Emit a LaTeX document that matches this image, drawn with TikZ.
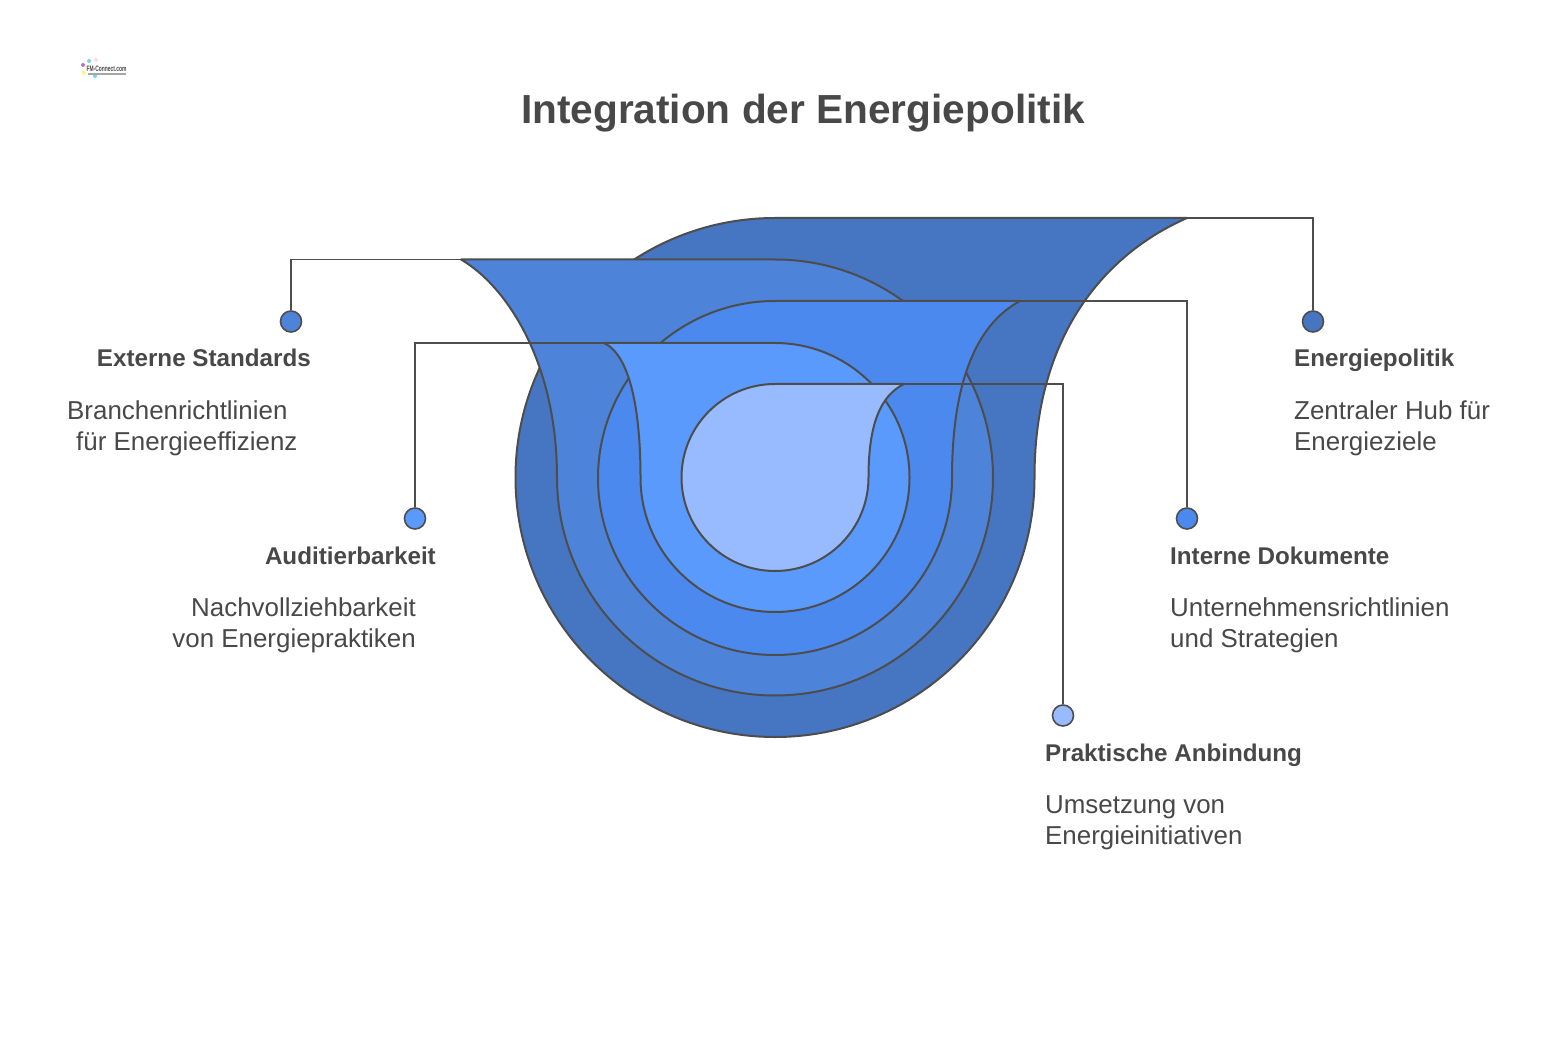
\documentclass[tikz,border=0pt]{standalone}
\usepackage{fontspec}
\setmainfont{Liberation Sans}
\usepackage{xcolor}
\usetikzlibrary{positioning}
\definecolor{ringA}{HTML}{4676C2}
\definecolor{ringB}{HTML}{4E83DA}
\definecolor{ringC}{HTML}{4B89EE}
\definecolor{ringD}{HTML}{5B9AFD}
\definecolor{ringE}{HTML}{97BBFE}
\definecolor{edgegray}{HTML}{4D4D4D}
\definecolor{textgray}{HTML}{484848}
\tikzset{
    ring/.style={draw=edgegray,line width=2pt,line join=round},
    lead/.style={draw=edgegray,line width=1.5pt},
    dot/.style={circle,draw=edgegray,line width=1.6pt,minimum size=21pt,inner sep=0pt},
    headline/.style={font=\fontsize{24.2}{30}\selectfont\bfseries,text=textgray,inner sep=0pt},
    bodytext/.style={font=\fontsize{25.9}{31}\selectfont,text=textgray,inner sep=0pt,align=left}
}

\begin{document}
\begin{tikzpicture}[x=1pt,y=-1pt]
        \useasboundingbox (0,0) rectangle (1558,1048);

        % Outer ring (Energiepolitik)
        \draw[ring,fill=ringA] (775,218) arc[start angle=270,end angle=0,radius=259.5]
            .. controls (1034.5,335) and (1105,254) .. (1187,218) -- cycle;
        % Second ring (Externe Standards)
        \draw[ring,fill=ringB] (775,259.5) arc[start angle=270,end angle=540,radius=218]
            .. controls (557,360) and (505,285) .. (461,259.5) -- cycle;
        % Third ring (Interne Dokumente)
        \draw[ring,fill=ringC] (775,301) arc[start angle=270,end angle=0,radius=177]
            .. controls (952,385) and (975,325) .. (1020,301) -- cycle;
        % Fourth ring (Auditierbarkeit)
        \draw[ring,fill=ringD] (775,343) arc[start angle=270,end angle=540,radius=134.5]
            .. controls (640.5,410) and (630,355) .. (604,343) -- cycle;
        % Inner ring (Praktische Anbindung)
        \draw[ring,fill=ringE] (775,384) arc[start angle=270,end angle=0,radius=93.5]
            .. controls (868.5,425) and (880,396) .. (904,384) -- cycle;

        % Ends of the leads on the rings
        \coordinate (topA) at (775,218);
        \coordinate (topB) at (775,259.5);
        \coordinate (topC) at (775,301);
        \coordinate (topD) at (775,343);
        \coordinate (topE) at (775,384);

        % Dots
        \node[dot,fill=ringA] (dotA) at (1313,321.5) {};
        \node[dot,fill=ringB] (dotB) at (291,321.5) {};
        \node[dot,fill=ringC] (dotC) at (1187,518.5) {};
        \node[dot,fill=ringD] (dotD) at (415,518.5) {};
        \node[dot,fill=ringE] (dotE) at (1063,715.5) {};

        % Leads
        \draw[lead] (dotA.north) |- (topA);
        \draw[lead] (dotB.north) |- (topB);
        \draw[lead] (dotC.north) |- (topC);
        \draw[lead] (dotD.north) |- (topD);
        \draw[lead] (dotE.north) |- (topE);

        % Title
        \node[font=\fontsize{40.6}{50}\selectfont\bfseries,text=textgray,inner sep=0pt] (title) at (803,113) {Integration der Energiepolitik};

        % Labels
        \node[headline,anchor=base west] (headA) at (1294,367) {Energiepolitik};
        \node[bodytext,anchor=north west] (bodyA) at (1294,401) {Zentraler Hub für\\Energieziele};

        \node[headline,anchor=base east] (headB) at (311,367) {Externe Standards};
        \node[bodytext,anchor=north west] (bodyB) at (67,401) {Branchenrichtlinien\\\hspace*{9pt}für Energieeffizienz};

        \node[headline,anchor=base west] (headC) at (1170,564) {Interne Dokumente};
        \node[bodytext,anchor=north west] (bodyC) at (1170,598) {Unternehmensrichtlinien\\und Strategien};

        \node[headline,anchor=base east] (headD) at (436,564) {Auditierbarkeit};
        \node[bodytext,anchor=north east,align=right] (bodyD) at (416,598) {Nachvollziehbarkeit\\von Energiepraktiken};

        \node[headline,anchor=base west] (headE) at (1045,761) {Praktische Anbindung};
        \node[bodytext,anchor=north west] (bodyE) at (1045,795) {Umsetzung von\\Energieinitiativen};

        % Logo
        \foreach \px/\py/\pc in {83/65/violet,89/61/cyan,96/60/pink,84/73/yellow,95/76/cyan} {
            \fill[\pc!55] (\px,\py) circle (2);
        }
        \node[font=\fontsize{4.9}{6}\selectfont\bfseries,text=textgray,inner sep=0pt] (logo) at (106.5,68.5) {\scalebox{1}[1.6]{FM-Connect.com}};
        \draw[gray!70,line width=1.2pt] (88,74) -- (126,74);

    \end{tikzpicture}
\end{document}
